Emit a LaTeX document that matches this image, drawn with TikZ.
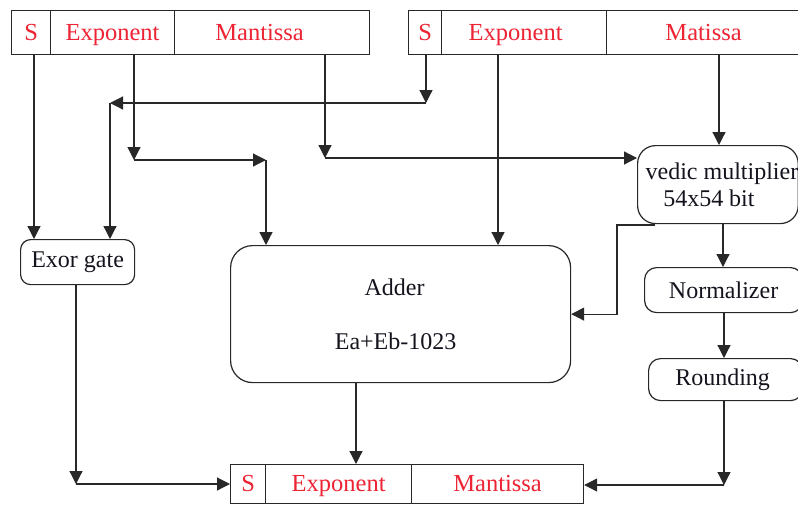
\documentclass[tikz,border=0pt]{standalone}
\usepackage{fontspec}
\setmainfont{Liberation Serif}
\usetikzlibrary{arrows.meta,calc}
\definecolor{regred}{RGB}{237,36,52}
\definecolor{linegray}{RGB}{40,40,40}
\definecolor{txtblack}{RGB}{20,20,30}
\tikzset{
  cell/.style={draw=linegray, line width=1.2pt, rectangle, anchor=north west, inner sep=0pt,
    text=regred, font=\fontsize{24.5}{27}\selectfont, text height=19pt, text depth=4pt},
  blk/.style={draw=linegray, line width=1.2pt, rectangle, anchor=north west, inner sep=0pt,
    text=txtblack, font=\fontsize{24}{27}\selectfont, align=center},
  wire/.style={draw=linegray, line width=1.2pt},
  arr/.style={wire, -{Triangle[length=13pt,width=13pt]}},
}
\begin{document}
\begin{tikzpicture}[x=1pt,y=-1pt]
\useasboundingbox (0,0) rectangle (798,504);
\clip (0,0) rectangle (798,504);
\fill[white] (0,0) rectangle (798,504);

% top-left register
\node[cell, minimum width=39, minimum height=44] (aS) at (11,10) {S};
\node[cell, minimum width=124, minimum height=44] (aE) at (50,10) {Exponent};
\node[cell, minimum width=195, minimum height=44] (aM) at (174,10) {Mantissa\hspace*{25pt}};

% top-right register
\node[cell, minimum width=33, minimum height=44] (bS) at (408,10) {S};
\node[cell, minimum width=165, minimum height=44] (bE) at (441,10) {Exponent\hspace*{17pt}};
\node[cell, minimum width=194, minimum height=44] (bM) at (606,10) {Matissa};

% output register
\node[cell, minimum width=35, minimum height=39] (oS) at (230,464) {S};
\node[cell, minimum width=146, minimum height=39] (oE) at (265,464) {Exponent};
\node[cell, minimum width=172, minimum height=39] (oM) at (411,464) {Mantissa};

% blocks
\node[blk, rounded corners=10pt, minimum width=114, minimum height=45] (exor) at (20,239) {\raisebox{-2pt}{Exor gate}};
\node[blk, rounded corners=22pt, minimum width=340, minimum height=137] (adder) at (230,245)
  {Adder\hspace*{12pt}\\[27pt]Ea+Eb-1023\hspace*{10pt}};
\node[blk, rounded corners=18pt, minimum width=160, minimum height=78] (vedic) at (637,145)
  {\hspace*{8pt}vedic multiplier\\54x54 bit\hspace*{18pt}};
\node[blk, rounded corners=12pt, minimum width=158, minimum height=45] (norm) at (644,267) {Normalizer};
\node[blk, rounded corners=12pt, minimum width=154, minimum height=42] (round) at (648,358) {Rounding\hspace*{6pt}};

% bend points
\coordinate (e1) at (134,160);
\coordinate (e1r) at (266,160);
\coordinate (m1) at (325,158);
\coordinate (s2) at (426,103);
\coordinate (s3) at (110,103);
\coordinate (xe2) at (498,0);
\coordinate (v0) at (655,225);
\coordinate (v1) at (617,225);
\coordinate (xa) at (356,0);
\coordinate (x1) at (76,484);
\coordinate (r1) at (724,485);

% connectors from top-left register
\draw[arr] (aS.south -| 34,0) -- (34,0 |- exor.north);
\draw[arr] (aE.south -| e1) -- (e1);
\draw[arr] (e1) -- (e1r);
\draw[arr] (e1r) -- (e1r |- adder.north);
\draw[arr] (aM.south -| m1) -- (m1);
\draw[arr] (m1) -- (m1 -| vedic.west);

% connectors from top-right register
\draw[arr] (bS.south -| s2) -- (s2);
\draw[arr] (s2) -- (s3);
\draw[arr] (s3) -- (s3 |- exor.north);
\draw[arr] (bE.south -| xe2) -- (adder.north -| xe2);
\draw[arr] (bM.south -| 719,0) -- (719,0 |- vedic.north);

% multiplier path
\draw[arr] (v0) -- (v1) |- (adder.east);
\draw[arr] (vedic.south -| 723,0) -- (723,0 |- norm.north);
\draw[arr] (norm.south -| 724,0) -- (724,0 |- round.north);
\draw[arr] (round.south -| r1) -- (r1);
\draw[arr] (r1) -- (r1 -| oM.east);

% adder and exor outputs
\draw[arr] (adder.south -| xa) -- (oE.north -| xa);
\draw[arr] (exor.south -| x1) -- (x1);
\draw[arr] (x1) -- (x1 -| oS.west);
\end{tikzpicture}
\end{document}
